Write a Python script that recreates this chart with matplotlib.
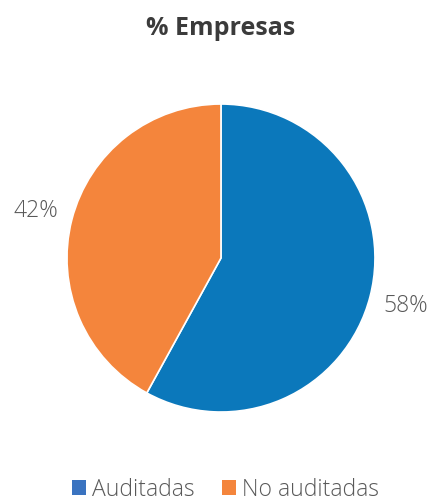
import matplotlib
matplotlib.use("Agg")
import matplotlib.pyplot as plt
from matplotlib.patches import Patch

categories = ["Auditadas", "No auditadas"]
values = [58, 42]
pie_colors = ["#0b78bb", "#f4853c"]
legend_colors = ["#3a73c0", "#f4853c"]

plt.rcParams['font.family'] = ['Open Sans', 'DejaVu Sans']

fig = plt.figure(figsize=(4.35, 5.01), dpi=100)
ax = fig.add_axes([0.154, 0.1776, 0.708, 0.6148])
wedges, texts, autotexts = ax.pie(
    values, colors=pie_colors, startangle=90, counterclock=False,
    autopct=lambda p: f"{p:.0f}%", pctdistance=1.24,
    wedgeprops=dict(edgecolor="white", linewidth=1.2),
    textprops=dict(color="#595959", fontsize=16.5, fontweight="light"))
ax.set_xlim(-1, 1)
ax.set_ylim(-1, 1)
ax.set_aspect("equal")
ax.axis("off")

fig.text(0.508, 0.944, "% Empresas", ha="center", va="center",
         fontsize=18, fontweight="bold", color="#3b3b3b")

handles = [Patch(facecolor=c, edgecolor="none") for c in legend_colors]
leg = fig.legend(handles, categories, loc="center", bbox_to_anchor=(0.518, 0.022),
                 ncol=2, frameon=False, handlelength=0.62, handleheight=0.62,
                 handletextpad=0.25, columnspacing=1.2,
                 prop=dict(size=16.5, weight="light"))
for t in leg.get_texts():
    t.set_color("#595959")

fig.savefig("out.png", dpi=100, facecolor="white")
